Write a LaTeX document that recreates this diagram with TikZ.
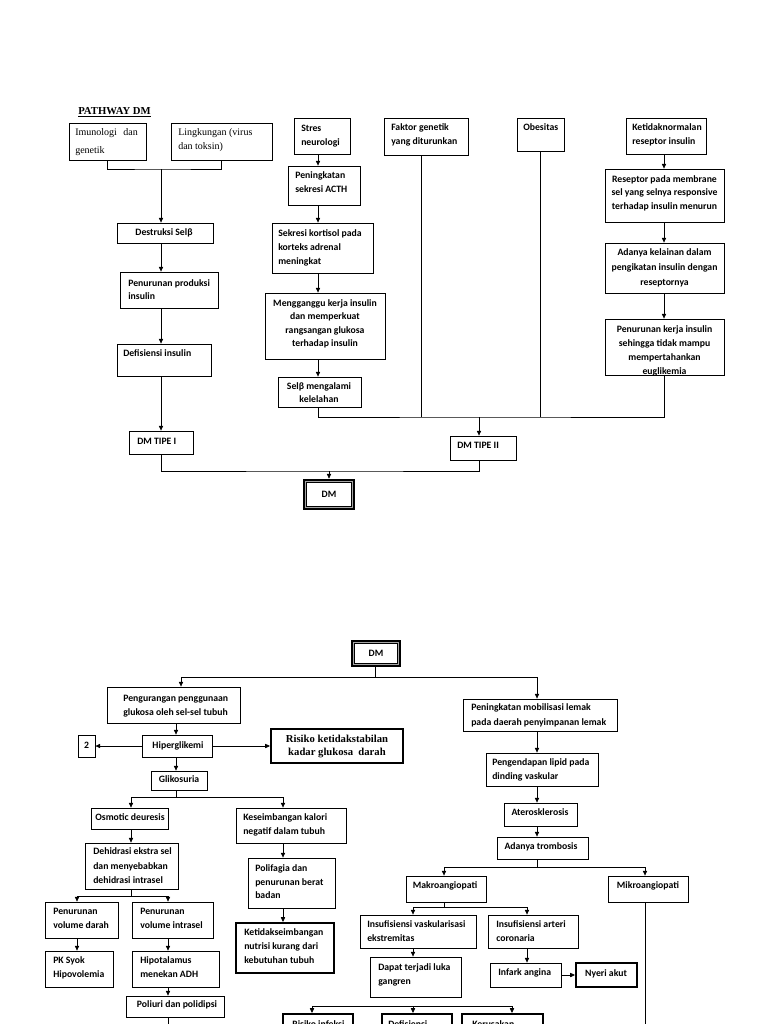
\documentclass[tikz,border=0pt]{standalone}
\usepackage{fontspec}
\setmainfont{Liberation Serif}
\newfontfamily\carl{Carlito}
\usetikzlibrary{arrows.meta}
\tikzset{
 box/.style={draw, line width=0.6pt, inner sep=0pt},
 tbox/.style={draw, line width=1.5pt, inner sep=0pt},
 dmbox/.style={draw, line width=2pt, inner sep=0pt},
 conn/.style={line width=0.5pt},
 arr/.style={line width=0.5pt, -{Triangle[length=3.6pt,width=3.2pt]}},
 lab/.style={inner sep=0pt, font=\carl\bfseries\fontsize{7.3}{#1}\selectfont},
 lab/.default=10.5,
 ser/.style={inner sep=0pt, font=\fontsize{7.5}{#1}\selectfont},
 ser/.default=10.5,
 serb/.style={inner sep=0pt, font=\bfseries\fontsize{8}{#1}\selectfont},
 serb/.default=9.75,
}
\newcommand\bx[6][box]{\node[#1, minimum width={(#4-#2)*0.75pt}, minimum height={(#5-#3)*0.75pt}] (#6) at ({(#2+#4)/2},{(#3+#5)/2}) {};}
\newcommand\TL[5][lab]{\node[#1,anchor=base west] (#2) at (#3,#4) {\begin{tabular}[t]{@{}l@{}}#5\end{tabular}};}
\newcommand\TC[5][lab]{\node[#1,anchor=base] (#2) at (#3,#4) {\begin{tabular}[t]{@{}c@{}}#5\end{tabular}};}
\newcommand\dblin[1]{%
 \draw[line width=0.6pt, gray!70] ([xshift=1.9pt,yshift=-1.9pt]#1.north west) rectangle ([xshift=-1.9pt,yshift=1.9pt]#1.south east);
 \draw[line width=0.5pt] ([xshift=2.8pt,yshift=-2.8pt]#1.north west) rectangle ([xshift=-2.8pt,yshift=2.8pt]#1.south east);}
\begin{document}
\begin{tikzpicture}[x=0.75pt,y=-0.75pt]
\useasboundingbox (0,0) rectangle (768,1024);
\fill[white] (0,0) rectangle (768,1024);
\clip (0,0) rectangle (768,1024);

% ================= TOP PART =================
\node[serb, anchor=base west] (title) at (78,114.5) {\underline{PATHWAY DM}};

\bx{69}{123}{146}{160}{imun}
\TL[ser=13.3]{t-imun}{75}{135.5}{\makebox[47pt][s]{Imunologi\hfill dan}\\genetik}
\bx{171}{123}{272}{160}{ling}
\TL[ser=10.5]{t-ling}{178}{135.5}{Lingkungan (virus\\dan toksin)}

\bx{117}{223}{213}{243}{destr}
\TC{t-destr}{164}{235.5}{Destruksi Selβ}
\bx{120}{272}{218}{308}{penprod}
\TL[lab=9.75]{t-penprod}{128}{286.5}{Penurunan produksi\\insulin}
\bx{117}{344}{211}{376}{defis}
\TL{t-defis}{123}{356.5}{Defisiensi insulin}
\bx{129}{431}{193}{454}{dm1}
\TL{t-dm1}{137}{444.5}{DM TIPE I}

\bx{294}{118}{350}{154}{stres}
\TL{t-stres}{301}{131.5}{Stres\\neurologi}
\bx{288}{166}{360}{205}{pening}
\TL{t-pening}{295}{178.5}{Peningkatan\\sekresi ACTH}
\bx{272}{223}{373}{273}{sekresi}
\TL{t-sekresi}{278}{236.5}{Sekresi kortisol pada\\korteks adrenal\\meningkat}
\bx{265}{293}{385}{359}{meng}
\TC[lab=10]{t-meng}{325}{306.5}{Mengganggu kerja insulin\\dan memperkuat\\rangsangan glukosa\\terhadap insulin}
\bx{278}{377}{361}{407}{selb}
\TC[lab=9.75]{t-selb}{319}{389.5}{Selβ mengalami\\kelelahan}

\bx{384}{118}{468}{155}{faktor}
\TL{t-faktor}{391}{130.5}{Faktor genetik\\yang diturunkan}
\bx{517}{118}{564}{151}{obes}
\TL{t-obes}{523}{130.5}{Obesitas}
\bx{626}{118}{706}{154}{ketid}
\TL{t-ketid}{632}{130.5}{Ketidaknormalan\\reseptor insulin}
\bx{605}{169}{724}{222}{resep}
\TC[lab=10]{t-resep}{664.5}{182.5}{Reseptor pada membrane\\sel yang selnya responsive\\terhadap insulin menurun}
\bx{605}{243}{724}{293}{adanya}
\TC[lab=11.25]{t-adanya}{664.5}{255.5}{Adanya kelainan dalam\\pengikatan insulin dengan\\reseptornya}
\bx{605}{319}{724}{375}{penker}
\TC[lab=10.5]{t-penker}{664.5}{332.5}{Penurunan kerja insulin\\sehingga tidak mampu\\mempertahankan\\euglikemia}

\bx{450}{436}{516}{460}{dm2}
\TL{t-dm2}{457}{448.5}{DM TIPE II}
\bx[dmbox]{304}{480}{354}{509}{dmtop}
\dblin{dmtop}
\TC{t-dmtop}{329}{497}{DM}

% top connectors
\coordinate (j1) at (161,169);
\coordinate (cS) at (318,0);
\coordinate (cK) at (664,0);
\coordinate (cF) at (421,0);
\coordinate (j2) at (329,471);
\coordinate (j3) at (479,417);
\draw[conn] (imun.south) |- (j1) -| (ling.south);
\draw[arr] (j1) -- (destr.north -| j1);
\draw[arr] (destr.south -| j1) -- (penprod.north -| j1);
\draw[arr] (penprod.south -| j1) -- (defis.north -| j1);
\draw[arr] (defis.south -| j1) -- (dm1.north -| j1);
\draw[conn] (dm1.south -| j1) |- (j2) -| (dm2.south -| j3);
\draw[arr] (j2) -- (dmtop.north);
\draw[arr] (stres.south -| cS) -- (pening.north -| cS);
\draw[arr] (pening.south -| cS) -- (sekresi.north -| cS);
\draw[arr] (sekresi.south -| cS) -- (meng.north -| cS);
\draw[arr] (meng.south -| cS) -- (selb.north -| cS);
\draw[conn] (selb.south -| cS) |- (j3) -| (penker.south -| cK);
\draw[conn] (faktor.south -| cF) -- (cF |- j3);
\draw[conn] (obes.south) -- (obes.south |- j3);
\draw[arr] (ketid.south -| cK) -- (resep.north -| cK);
\draw[arr] (resep.south -| cK) -- (adanya.north -| cK);
\draw[arr] (adanya.south -| cK) -- (penker.north -| cK);
\draw[arr] (j3) -- (dm2.north -| j3);

% ================= BOTTOM PART =================
\bx[dmbox]{352}{641}{400}{666}{dmb}
\dblin{dmb}
\TC{t-dmb}{376}{656.5}{DM}

\bx{107}{687}{240}{723}{peng}
\TL{t-peng}{123}{701.5}{Pengurangan penggunaan\\glukosa oleh sel-sel tubuh}
\bx{142}{735}{212}{757}{hip}
\TC{t-hip}{178}{748}{Hiperglikemi}
\bx{78}{735}{95}{757}{two}
\TC{t-two}{86.5}{748}{2}
\bx[tbox]{271}{729}{403}{763}{risk}
\TC[serb=9.75]{t-risk}{337}{742.5}{Risiko ketidakstabilan\\kadar glukosa\ \ darah}
\bx{151}{771}{207}{790}{gliko}
\TC{t-gliko}{179}{782.5}{Glikosuria}

\bx{91}{808}{168}{829}{osm}
\TC{t-osm}{130}{820.5}{Osmotic deuresis}
\bx{236}{808}{346}{843}{kes}
\TL{t-kes}{243}{820.5}{Keseimbangan kalori\\negatif dalam tubuh}
\bx{85}{843}{178}{889}{dehid}
\TL[lab=10.9]{t-dehid}{93}{854.5}{Dehidrasi ekstra sel\\dan menyebabkan\\dehidrasi intrasel}
\bx{45}{902}{118}{938}{darah}
\TL{t-darah}{53}{914.5}{Penurunan\\volume darah}
\bx{132}{902}{213}{938}{intra}
\TL{t-intra}{140}{914.5}{Penurunan\\volume intrasel}
\bx{45}{951}{113}{987}{pk}
\TL[lab=10.2]{t-pk}{53}{963.5}{PK Syok\\Hipovolemia}
\bx{132}{951}{219}{987}{hipo}
\TL[lab=10.2]{t-hipo}{140}{963.5}{Hipotalamus\\menekan ADH}
\bx{126}{996}{224}{1017}{poli}
\TC{t-poli}{177}{1007.5}{Poliuri dan polidipsi}
\bx{248}{858}{335}{908}{polif}
\TL[lab=10.3]{t-polif}{255}{871.5}{Polifagia dan\\penurunan berat\\badan}
\bx[tbox]{236}{923}{334}{973}{ketid2}
\TL{t-ketid2}{244}{935.5}{Ketidakseimbangan\\nutrisi kurang dari\\kebutuhan tubuh}

\bx{463}{699}{617}{731}{mob}
\TL[lab=11.25]{t-mob}{471}{710.5}{Peningkatan mobilisasi lemak\\pada daerah penyimpanan lemak}
\bx{486}{753}{598}{786}{lipid}
\TL[lab=10.75]{t-lipid}{492}{765.5}{Pengendapan lipid pada\\dinding vaskular}
\bx{504}{803}{577}{826}{ater}
\TC{t-ater}{540}{815.5}{Aterosklerosis}
\bx{497}{837}{588}{859}{trom}
\TC{t-trom}{541}{849.5}{Adanya trombosis}
\bx{406}{876}{486}{902}{makro}
\TC{t-makro}{445}{888}{Makroangiopati}
\bx{608}{876}{688}{902}{mikro}
\TC{t-mikro}{648}{888}{Mikroangiopati}
\bx{360}{915}{476}{948}{insv}
\TL{t-insv}{367}{927.5}{Insufisiensi vaskularisasi\\ekstremitas}
\bx{488}{915}{578}{948}{insa}
\TL{t-insa}{496}{927.5}{Insufisiensi arteri\\coronaria}
\bx{370}{957}{461}{997}{dapat}
\TL{t-dapat}{378}{970.5}{Dapat terjadi luka\\gangren}
\bx{490}{963}{561}{987}{infark}
\TL{t-infark}{498}{975.5}{Infark angina}
\bx[tbox]{576}{963}{637}{987}{nyeri}
\TC{t-nyeri}{606}{976.5}{Nyeri akut}

\bx[tbox]{283}{1014}{353}{1040}{b1}
\TL{t-b1}{292}{1027.5}{Risiko infeksi}
\bx[tbox]{382}{1014}{452}{1040}{b2}
\TL{t-b2}{388}{1027.5}{Defisiensi}
\bx[tbox]{462}{1014}{543}{1040}{b3}
\TL{t-b3}{472}{1027.5}{Kerusakan}

% bottom connectors
\coordinate (j4) at (375,677);
\coordinate (cP) at (181,0);
\coordinate (cM) at (537,0);
\coordinate (cH) at (176,0);
\coordinate (j5) at (176,797);
\coordinate (cO) at (131,0);
\coordinate (cK2) at (283,0);
\coordinate (j6) at (131,896);
\coordinate (cD) at (77,0);
\coordinate (cI) at (168,0);
\coordinate (e1) at (168,1030);
\coordinate (j7) at (537,867);
\coordinate (cMa) at (444,0);
\coordinate (cMi) at (645,0);
\coordinate (j8) at (444,907);
\coordinate (cV) at (413,0);
\coordinate (cA) at (527,0);
\coordinate (e2) at (645,1030);
\coordinate (k1) at (312,1006);
\coordinate (k2) at (413,1006);
\coordinate (k3) at (512,1006);

\draw[conn] (dmb.south -| j4) -- (j4);
\draw[arr] (j4) -| (peng.north -| cP);
\draw[arr] (j4) -| (mob.north -| cM);
\draw[arr] (peng.south -| cH) -- (hip.north -| cH);
\draw[arr] (hip.west) -- (two.east);
\draw[arr] (hip.east) -- (risk.west);
\draw[arr] (hip.south -| cH) -- (gliko.north -| cH);
\draw[conn] (gliko.south -| cH) -- (j5);
\draw[arr] (j5) -| (osm.north -| cO);
\draw[arr] (j5) -| (kes.north -| cK2);
\draw[arr] (osm.south -| cO) -- (dehid.north -| cO);
\draw[conn] (dehid.south -| j6) -- (j6);
\draw[arr] (j6) -| (darah.north -| cD);
\draw[arr] (j6) -| (intra.north -| cI);
\draw[arr] (darah.south -| cD) -- (pk.north -| cD);
\draw[arr] (intra.south -| cI) -- (hipo.north -| cI);
\draw[arr] (hipo.south -| cI) -- (poli.north -| cI);
\draw[conn] (poli.south -| cI) -- (e1);
\draw[arr] (kes.south -| cK2) -- (polif.north -| cK2);
\draw[arr] (polif.south -| cK2) -- (ketid2.north -| cK2);
\draw[arr] (mob.south -| cM) -- (lipid.north -| cM);
\draw[arr] (lipid.south -| cM) -- (ater.north -| cM);
\draw[arr] (ater.south -| cM) -- (trom.north -| cM);
\draw[conn] (trom.south -| j7) -- (j7);
\draw[arr] (j7) -| (makro.north -| cMa);
\draw[arr] (j7) -| (mikro.north -| cMi);
\draw[conn] (makro.south -| j8) -- (j8);
\draw[arr] (j8) -| (insv.north -| cV);
\draw[arr] (j8) -| (insa.north -| cA);
\draw[arr] (insv.south -| cV) -- (dapat.north -| cV);
\draw[arr] (insa.south -| cA) -- (infark.north -| cA);
\draw[arr] (infark.east) -- (nyeri.west);
\draw[conn] (mikro.south -| cMi) -- (e2);
\draw[conn] (k1) -- (k3);
\draw[arr] (k1) -- (b1.north -| k1);
\draw[arr] (k2) -- (b2.north -| k2);
\draw[arr] (k3) -- (b3.north -| k3);
\end{tikzpicture}
\end{document}
